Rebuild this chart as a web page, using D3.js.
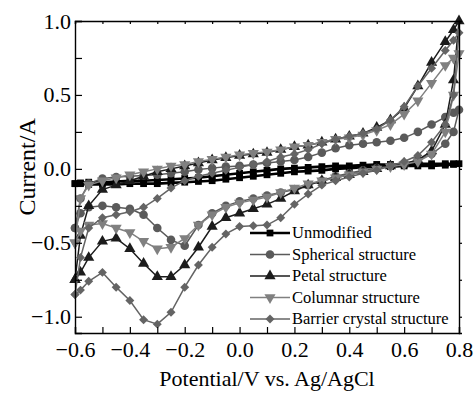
<!DOCTYPE html>
<html>
<head>
<meta charset="utf-8">
<script src="https://cdn.jsdelivr.net/npm/d3@7"></script>
<style>
  body { margin: 0; background: #fff; }
  text { font-family: 'Liberation Serif', 'Times New Roman', serif; }
</style>
</head>
<body>
<div id="chart"></div>
<script>
// potentials (V) shared by every sweep
const potential = [-0.6, -0.58, -0.55, -0.5, -0.45, -0.4, -0.35, -0.3, -0.25, -0.2, -0.15, -0.1, -0.05, 0,
  0.05, 0.1, 0.15, 0.2, 0.25, 0.3, 0.35, 0.4, 0.45, 0.5, 0.55, 0.6, 0.65, 0.7, 0.75, 0.78, 0.8]

// forward (anodic) sweep, and reverse sweep listed in the same potential order
const unmodifiedFwd = [-0.10, -0.095, -0.09, -0.09, -0.085, -0.08, -0.08, -0.075, -0.07, -0.065, -0.06, -0.05, -0.04, -0.03,
  -0.02, -0.01, 0, 0.005, 0.01, 0.015, 0.02, 0.02, 0.025, 0.03, 0.03, 0.03, 0.035, 0.035, 0.035, 0.035, 0.035]
const unmodifiedRev = [-0.10, -0.10, -0.105, -0.105, -0.105, -0.1, -0.1, -0.1, -0.095, -0.09, -0.085, -0.08, -0.07, -0.06,
  -0.05, -0.04, -0.03, -0.02, -0.015, -0.01, 0, 0.005, 0.01, 0.015, 0.015, 0.02, 0.02, 0.02, 0.025, 0.03, 0.035]

const sphericalFwd = [-0.4, -0.2, -0.1, -0.065, -0.055, -0.05, -0.045, -0.04, -0.03, -0.02, -0.005, 0.005, 0.015, 0.02,
  0.03, 0.04, 0.05, 0.06, 0.08, 0.11, 0.14, 0.16, 0.17, 0.18, 0.19, 0.21, 0.25, 0.3, 0.35, 0.38, 0.4]
const sphericalRev = [-0.4, -0.3, -0.26, -0.25, -0.26, -0.27, -0.31, -0.4, -0.48, -0.52, -0.38, -0.3, -0.25, -0.22,
  -0.2, -0.18, -0.16, -0.14, -0.11, -0.08, -0.05, -0.03, -0.01, 0.005, 0.02, 0.035, 0.06, 0.1, 0.17, 0.25, 0.4]

const petalFwd = [-0.75, -0.45, -0.25, -0.14, -0.11, -0.08, -0.05, -0.02, 0, 0.02, 0.04, 0.06, 0.075, 0.09,
  0.1, 0.11, 0.13, 0.15, 0.16, 0.18, 0.2, 0.22, 0.24, 0.28, 0.33, 0.41, 0.56, 0.72, 0.86, 0.94, 1.0]
const petalRev = [-0.75, -0.7, -0.6, -0.49, -0.47, -0.54, -0.64, -0.73, -0.73, -0.65, -0.53, -0.39, -0.33, -0.3,
  -0.27, -0.24, -0.2, -0.15, -0.11, -0.08, -0.06, -0.04, -0.02, 0, 0.02, 0.035, 0.06, 0.12, 0.3, 0.6, 1.0]

const columnarFwd = [-0.5, -0.2, -0.11, -0.08, -0.06, -0.04, -0.02, 0, 0.02, 0.03, 0.05, 0.065, 0.08, 0.095,
  0.105, 0.115, 0.13, 0.15, 0.16, 0.18, 0.2, 0.21, 0.23, 0.26, 0.3, 0.37, 0.46, 0.58, 0.7, 0.75, 0.78]
const columnarRev = [-0.5, -0.42, -0.38, -0.37, -0.4, -0.43, -0.49, -0.54, -0.53, -0.47, -0.38, -0.31, -0.26, -0.23,
  -0.21, -0.19, -0.16, -0.13, -0.1, -0.08, -0.06, -0.04, -0.02, 0, 0.015, 0.03, 0.05, 0.1, 0.25, 0.5, 0.78]

const barrierFwd = [-0.85, -0.6, -0.4, -0.33, -0.31, -0.29, -0.26, -0.2, -0.13, -0.08, -0.05, -0.03, -0.01, 0.01,
  0.03, 0.05, 0.08, 0.1, 0.13, 0.17, 0.2, 0.22, 0.24, 0.27, 0.33, 0.42, 0.56, 0.68, 0.8, 0.87, 0.92]
const barrierRev = [-0.85, -0.82, -0.76, -0.7, -0.8, -0.89, -1.02, -1.05, -0.97, -0.8, -0.65, -0.53, -0.44, -0.39,
  -0.385, -0.38, -0.33, -0.24, -0.17, -0.11, -0.08, -0.055, -0.03, -0.01, 0.02, 0.05, 0.09, 0.18, 0.3, 0.5, 0.92]

const seriesNames = ['Unmodified', 'Spherical structure', 'Petal structure', 'Columnar structure', 'Barrier crystal structure']
const xTicks = [-0.6, -0.5, -0.4, -0.3, -0.2, -0.1, 0, 0.1, 0.2, 0.3, 0.4, 0.5, 0.6, 0.7, 0.8]
const xLabels = [-0.6, -0.4, -0.2, 0, 0.2, 0.4, 0.6, 0.8]
const yTicks = [-1.0, -0.75, -0.5, -0.25, 0, 0.25, 0.5, 0.75, 1.0]
const yLabels = [-1.0, -0.5, 0, 0.5, 1.0]

const margin = { top: 21, left: 75, right: 15, bottom: 62 }
const width = 474 - margin.left - margin.right
const height = 395 - margin.top - margin.bottom

const svg = d3
  .select('#chart')
  .append('svg')
  .attr('width', 474)
  .attr('height', 395)
  .append('g')
  .attr('transform', 'translate(' + margin.left + ',' + margin.top + ')')

const xPositionScale = d3.scaleLinear().domain([-0.6, 0.8]).range([0, width])
const yPositionScale = d3.scaleLinear().domain([-1.11, 1.0]).range([height, 0])

const styles = [
  { color: '#000000', symbol: d3.symbolSquare, size: 46, rotate: 0, lw: 2.6 },
  { color: '#5a5a5a', symbol: d3.symbolCircle, size: 58, rotate: 0, lw: 1.5 },
  { color: '#1c1c1c', symbol: d3.symbolTriangle, size: 54, rotate: 0, lw: 1.5 },
  { color: '#808080', symbol: d3.symbolTriangle, size: 54, rotate: 180, lw: 1.5 },
  { color: '#646464', symbol: d3.symbolSquare, size: 40, rotate: 45, lw: 1.5 }
]

function loop(fwd, rev) {
  const pts = potential.map((v, i) => ({ x: v, y: fwd[i] }))
  for (let i = potential.length - 2; i >= 0; i--) {
    pts.push({ x: potential[i], y: rev[i] })
  }
  return pts
}

const datasets = [
  loop(unmodifiedFwd, unmodifiedRev),
  loop(sphericalFwd, sphericalRev),
  loop(petalFwd, petalRev),
  loop(columnarFwd, columnarRev),
  loop(barrierFwd, barrierRev)
]

const line = d3
  .line()
  .x(d => xPositionScale(d.x))
  .y(d => yPositionScale(d.y))

datasets.forEach(function(data, i) {
  const s = styles[i]
  const g = svg.append('g').attr('class', 'series')
  g.append('path')
    .datum(data)
    .attr('d', line)
    .attr('fill', 'none')
    .attr('stroke', s.color)
    .attr('stroke-width', s.lw)
  g.selectAll('.marker')
    .data(data)
    .enter()
    .append('path')
    .attr('class', 'marker')
    .attr('d', d3.symbol().type(s.symbol).size(s.size))
    .attr('transform', d => 'translate(' + xPositionScale(d.x) + ',' + yPositionScale(d.y) + ') rotate(' + s.rotate + ')')
    .attr('fill', s.color)
})

// frame and axes
const fmt = d3.format('.1f')
const isLabel = (list, v) => list.some(l => Math.abs(l - v) < 1e-6)

const xAxis = d3
  .axisBottom(xPositionScale)
  .tickValues(xTicks)
  .tickSize(-6)
  .tickPadding(8)
  .tickFormat(d => (isLabel(xLabels, d) ? fmt(d) : ''))
svg
  .append('g')
  .attr('class', 'axis x-axis')
  .attr('transform', 'translate(0,' + height + ')')
  .call(xAxis)

const yAxis = d3
  .axisLeft(yPositionScale)
  .tickValues(yTicks)
  .tickSize(-7)
  .tickPadding(4)
  .tickFormat(d => (isLabel(yLabels, d) ? fmt(d) : ''))
svg
  .append('g')
  .attr('class', 'axis y-axis')
  .call(yAxis)

svg
  .append('g')
  .attr('class', 'axis top-axis')
  .call(d3.axisTop(xPositionScale).tickValues(xTicks).tickSize(-3).tickFormat(''))

svg
  .append('g')
  .attr('class', 'axis right-axis')
  .attr('transform', 'translate(' + width + ',0)')
  .call(d3.axisRight(yPositionScale).tickValues(yTicks).tickSize(3).tickFormat(''))

svg.selectAll('.axis path').attr('stroke', '#000').attr('stroke-width', 1.4)
svg.selectAll('.axis line').attr('stroke', '#000').attr('stroke-width', 1.2)
svg.selectAll('.axis text')
  .attr('fill', '#000')
  .style('font-family', "'Liberation Serif', serif")
  .style('font-size', '22px')

svg
  .append('text')
  .attr('x', width / 2)
  .attr('y', height + 53)
  .attr('text-anchor', 'middle')
  .style('font-size', '22px')
  .text('Potential/V vs. Ag/AgCl')

svg
  .append('text')
  .attr('transform', 'translate(' + (-40) + ',' + (yPositionScale(0) - 2) + ') rotate(-90)')
  .attr('text-anchor', 'middle')
  .style('font-size', '24px')
  .text('Current/A')

// legend
const legend = svg
  .append('g')
  .attr('class', 'legend')
  .attr('transform', 'translate(175,212)')

seriesNames.forEach(function(name, i) {
  const s = styles[i]
  const row = legend.append('g').attr('transform', 'translate(0,' + i * 21.5 + ')')
  row.append('line')
    .attr('x1', 0)
    .attr('x2', 40)
    .attr('stroke', s.color)
    .attr('stroke-width', s.lw)
  row.append('path')
    .attr('d', d3.symbol().type(s.symbol).size(s.size))
    .attr('transform', 'translate(20,0) rotate(' + s.rotate + ')')
    .attr('fill', s.color)
  row.append('text')
    .attr('x', 42)
    .attr('dy', '0.33em')
    .style('font-size', '16.5px')
    .text(name)
})
</script>
</body>
</html>
